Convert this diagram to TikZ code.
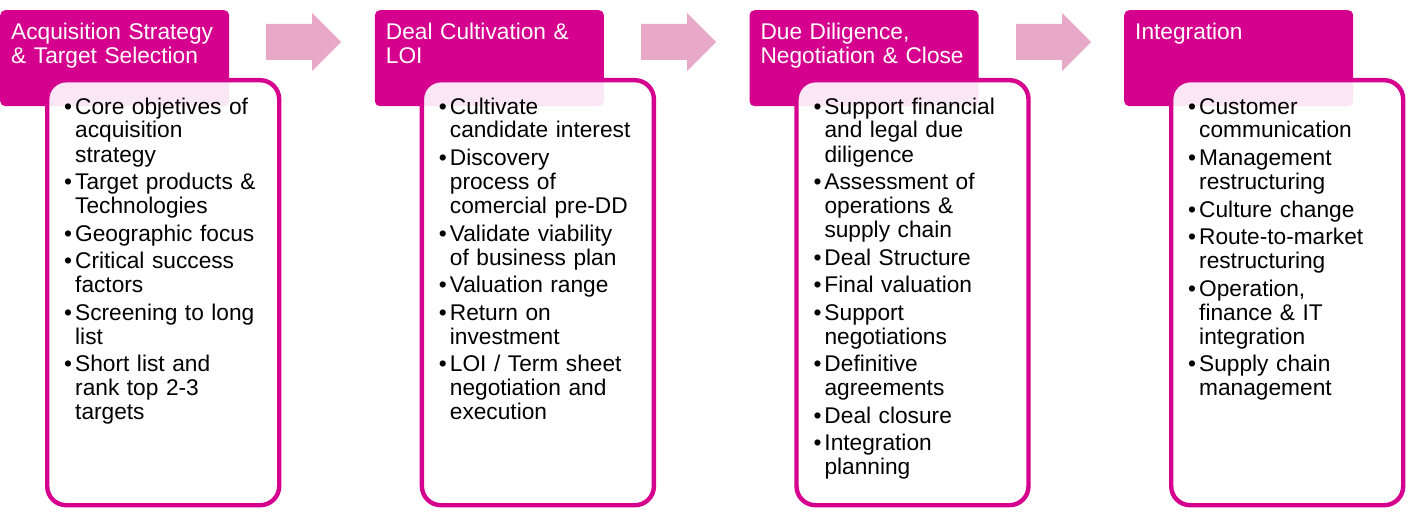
\documentclass[tikz,border=0pt]{standalone}
\usepackage{fontspec}
\setmainfont{Liberation Sans}
\usetikzlibrary{positioning}
\definecolor{stagemag}{RGB}{214,0,143}
\definecolor{arrowpink}{RGB}{232,168,199}
\newcommand{\bfirst}[1]{\hangindent=11pt\hangafter=1\noindent\makebox[11pt][l]{\textbullet}#1}
\newcommand{\bitem}[1]{\par\vspace{3.5pt}\bfirst{#1}}

\begin{document}
\begin{tikzpicture}[
  x=1pt, y=-1pt,
  font=\fontsize{22.7}{24}\selectfont,
  head/.style={rectangle, fill=stagemag, rounded corners=5pt, minimum width=229pt,
               minimum height=96pt, inner sep=0pt, anchor=north west},
  headtxt/.style={text=white, anchor=base west, text width=220pt, align=left, inner sep=0pt},
  panel/.style={rectangle, draw=stagemag, line width=4.4pt, fill=white, fill opacity=0.9,
                rounded corners=19pt, minimum width=232pt, minimum height=425pt,
                inner sep=0pt, anchor=north west},
  items/.style={anchor=base west, text width=230pt, align=left, inner sep=0pt},
  flow/.style={fill=arrowpink}
]
\useasboundingbox (0,0) rectangle (1410,516);

% stage 1
\node[head] (h1) at (0,10) {};
\node[panel] (p1) at (45,78) {};
\node[headtxt] (h1t) at (11,40) {Acquisition Strategy\\\& Target Selection};
\node[items] (p1t) at (64,114) {%
  \bfirst{Core objetives of\newline acquisition\newline strategy}%
  \bitem{Target products \&\newline Technologies}%
  \bitem{Geographic focus}%
  \bitem{Critical success\newline factors}%
  \bitem{Screening to long\newline list}%
  \bitem{Short list and\newline rank top 2-3\newline targets}\par};

% stage 2
\node[head] (h2) at (374.7,10) {};
\node[panel] (p2) at (419.7,78) {};
\node[headtxt] (h2t) at (385.7,40) {Deal Cultivation \&\\LOI};
\node[items] (p2t) at (438.7,114) {%
  \bfirst{Cultivate\newline candidate interest}%
  \bitem{Discovery\newline process of\newline comercial pre-DD}%
  \bitem{Validate viability\newline of business plan}%
  \bitem{Valuation range}%
  \bitem{Return on\newline investment}%
  \bitem{LOI / Term sheet\newline negotiation and\newline execution}\par};

% stage 3
\node[head] (h3) at (749.3,10) {};
\node[panel] (p3) at (794.3,78) {};
\node[headtxt] (h3t) at (760.3,40) {Due Diligence,\\Negotiation \& Close};
\node[items] (p3t) at (813.3,114) {%
  \bfirst{Support financial\newline and legal due\newline diligence}%
  \bitem{Assessment of\newline operations \&\newline supply chain}%
  \bitem{Deal Structure}%
  \bitem{Final valuation}%
  \bitem{Support\newline negotiations}%
  \bitem{Definitive\newline agreements}%
  \bitem{Deal closure}%
  \bitem{Integration\newline planning}\par};

% stage 4
\node[head] (h4) at (1124,10) {};
\node[panel] (p4) at (1169,78) {};
\node[headtxt] (h4t) at (1135,40) {Integration};
\node[items] (p4t) at (1188,114) {%
  \bfirst{Customer\newline communication}%
  \bitem{Management\newline restructuring}%
  \bitem{Culture change}%
  \bitem{Route-to-market\newline restructuring}%
  \bitem{Operation,\newline finance \& IT\newline integration}%
  \bitem{Supply chain\newline management}\par};

% flow arrows
\fill[flow] (266,24) -- (312,24) -- (312,13) -- (341,42) -- (312,71) -- (312,60) -- (266,60) -- cycle;
\fill[flow] (641,24) -- (687,24) -- (687,13) -- (716,42) -- (687,71) -- (687,60) -- (641,60) -- cycle;
\fill[flow] (1016,24) -- (1062,24) -- (1062,13) -- (1091,42) -- (1062,71) -- (1062,60) -- (1016,60) -- cycle;
\end{tikzpicture}
\end{document}
